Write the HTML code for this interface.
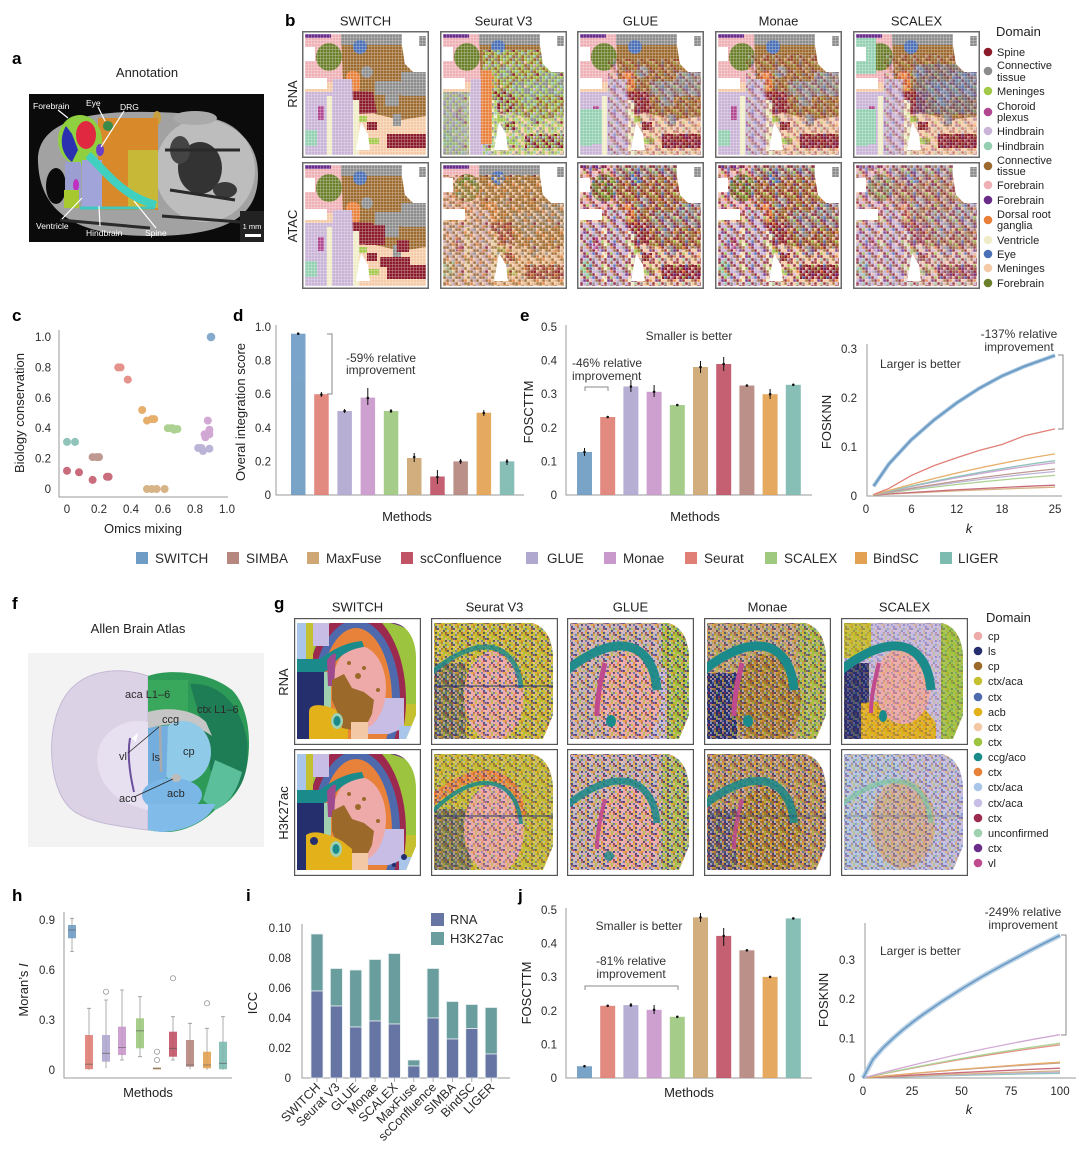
<!DOCTYPE html>
<html><head><meta charset="utf-8"><style>
html,body{margin:0;padding:0;background:#fff;}
svg{display:block;}
text{font-family:"Liberation Sans",sans-serif;fill:#2a2a2a;}
.pl{font-weight:bold;font-size:17px;fill:#000;}
.tk{font-size:11.5px;fill:#333;}
.at{font-size:13px;fill:#222;}
.ti{font-size:13px;fill:#222;}
.lg{font-size:11px;fill:#222;}
.an{font-size:12px;fill:#333;}
.wl{font-size:8.5px;fill:#fff;}
.ax{stroke:#9a9a9a;stroke-width:1;fill:none;}
</style></head><body>
<svg width="1080" height="1158" viewBox="0 0 1080 1158" xmlns="http://www.w3.org/2000/svg">
<defs>
<clipPath id="bclip"><rect x="0" y="0" width="121" height="121"/></clipPath>
<clipPath id="gclip"><path d="M3,5 H100 C114,7 122,22 122,40 V97 L112,121 H3 Z"/></clipPath>
<pattern id="grid" width="3" height="3" patternUnits="userSpaceOnUse"><path d="M0,0.25H3M0.25,0V3" stroke="#fff" stroke-width="0.5" opacity="0.5"/></pattern>
<pattern id="nb" width="24" height="24" patternUnits="userSpaceOnUse">
<path fill="#8b1a2b" d="M0,0h2.7v2.7h-2.7zM12,0h2.7v2.7h-2.7zM21,0h2.7v2.7h-2.7zM3,3h2.7v2.7h-2.7zM15,3h2.7v2.7h-2.7zM6,6h2.7v2.7h-2.7zM18,6h2.7v2.7h-2.7zM9,9h2.7v2.7h-2.7zM21,9h2.7v2.7h-2.7zM0,12h2.7v2.7h-2.7zM12,12h2.7v2.7h-2.7zM3,15h2.7v2.7h-2.7zM15,15h2.7v2.7h-2.7zM6,18h2.7v2.7h-2.7zM18,18h2.7v2.7h-2.7zM0,21h2.7v2.7h-2.7zM9,21h2.7v2.7h-2.7z"/>
<path fill="#9c6a2e" d="M6,0h2.7v2.7h-2.7zM12,3h2.7v2.7h-2.7zM21,6h2.7v2.7h-2.7zM0,9h2.7v2.7h-2.7zM9,12h2.7v2.7h-2.7zM15,18h2.7v2.7h-2.7zM18,21h2.7v2.7h-2.7z"/>
<path fill="#c9b3d6" d="M9,0h2.7v2.7h-2.7zM12,9h2.7v2.7h-2.7zM3,12h2.7v2.7h-2.7zM18,15h2.7v2.7h-2.7zM21,21h2.7v2.7h-2.7z"/>
<path fill="#f5cba7" d="M18,0h2.7v2.7h-2.7zM0,3h2.7v2.7h-2.7zM15,6h2.7v2.7h-2.7zM15,12h2.7v2.7h-2.7zM0,15h2.7v2.7h-2.7zM9,18h2.7v2.7h-2.7z"/>
<path fill="#4a6fb5" d="M9,3h2.7v2.7h-2.7zM12,15h2.7v2.7h-2.7z"/>
<path fill="#a3c94a" d="M21,3h2.7v2.7h-2.7zM3,6h2.7v2.7h-2.7zM6,15h2.7v2.7h-2.7z"/>
<path fill="#6a2c8a" d="M9,6h2.7v2.7h-2.7zM21,12h2.7v2.7h-2.7zM3,18h2.7v2.7h-2.7z"/>
<path fill="#e8803a" d="M6,9h2.7v2.7h-2.7zM21,18h2.7v2.7h-2.7z"/>
<path fill="#8c8c8c" d="M18,9h2.7v2.7h-2.7zM12,21h2.7v2.7h-2.7z"/>
<path fill="#93cfb0" d="M6,21h2.7v2.7h-2.7z"/>
</pattern>
<pattern id="nseu" width="24" height="24" patternUnits="userSpaceOnUse">
<path fill="#a3c94a" d="M0,0h2.7v2.7h-2.7zM9,0h2.7v2.7h-2.7zM15,0h2.7v2.7h-2.7zM3,3h2.7v2.7h-2.7zM12,3h2.7v2.7h-2.7zM18,3h2.7v2.7h-2.7zM6,6h2.7v2.7h-2.7zM15,6h2.7v2.7h-2.7zM21,6h2.7v2.7h-2.7zM0,9h2.7v2.7h-2.7zM6,9h2.7v2.7h-2.7zM18,9h2.7v2.7h-2.7zM3,12h2.7v2.7h-2.7zM9,12h2.7v2.7h-2.7zM12,12h2.7v2.7h-2.7zM21,12h2.7v2.7h-2.7zM0,15h2.7v2.7h-2.7zM6,15h2.7v2.7h-2.7zM15,15h2.7v2.7h-2.7zM3,18h2.7v2.7h-2.7zM12,18h2.7v2.7h-2.7zM18,18h2.7v2.7h-2.7zM21,18h2.7v2.7h-2.7zM3,21h2.7v2.7h-2.7zM9,21h2.7v2.7h-2.7zM15,21h2.7v2.7h-2.7z"/>
<path fill="#8c8c8c" d="M3,0h2.7v2.7h-2.7zM21,0h2.7v2.7h-2.7zM6,3h2.7v2.7h-2.7zM0,6h2.7v2.7h-2.7zM12,6h2.7v2.7h-2.7zM9,9h2.7v2.7h-2.7zM21,9h2.7v2.7h-2.7zM15,12h2.7v2.7h-2.7zM3,15h2.7v2.7h-2.7zM18,15h2.7v2.7h-2.7zM9,18h2.7v2.7h-2.7zM0,21h2.7v2.7h-2.7zM12,21h2.7v2.7h-2.7z"/>
<path fill="#93cfb0" d="M12,0h2.7v2.7h-2.7zM21,3h2.7v2.7h-2.7zM3,6h2.7v2.7h-2.7zM15,9h2.7v2.7h-2.7zM0,12h2.7v2.7h-2.7zM12,15h2.7v2.7h-2.7zM6,18h2.7v2.7h-2.7zM18,21h2.7v2.7h-2.7z"/>
<path fill="#f5cba7" d="M9,3h2.7v2.7h-2.7z"/>
<path fill="#c9b3d6" d="M18,6h2.7v2.7h-2.7z"/>
<path fill="#8b1a2b" d="M21,15h2.7v2.7h-2.7z"/>
</pattern>
<pattern id="nbr" width="24" height="24" patternUnits="userSpaceOnUse">
<path fill="#9c6a2e" d="M0,0h2.7v2.7h-2.7zM6,0h2.7v2.7h-2.7zM15,0h2.7v2.7h-2.7zM3,3h2.7v2.7h-2.7zM9,3h2.7v2.7h-2.7zM18,3h2.7v2.7h-2.7zM6,6h2.7v2.7h-2.7zM12,6h2.7v2.7h-2.7zM21,6h2.7v2.7h-2.7zM0,9h2.7v2.7h-2.7zM3,9h2.7v2.7h-2.7zM12,9h2.7v2.7h-2.7zM6,12h2.7v2.7h-2.7zM9,12h2.7v2.7h-2.7zM18,12h2.7v2.7h-2.7zM0,15h2.7v2.7h-2.7zM12,15h2.7v2.7h-2.7zM15,15h2.7v2.7h-2.7zM3,18h2.7v2.7h-2.7zM9,18h2.7v2.7h-2.7zM18,18h2.7v2.7h-2.7zM0,21h2.7v2.7h-2.7zM12,21h2.7v2.7h-2.7zM21,21h2.7v2.7h-2.7z"/>
<path fill="#f5cba7" d="M3,0h2.7v2.7h-2.7zM18,0h2.7v2.7h-2.7zM6,3h2.7v2.7h-2.7zM21,3h2.7v2.7h-2.7zM0,6h2.7v2.7h-2.7zM15,6h2.7v2.7h-2.7zM9,9h2.7v2.7h-2.7zM21,9h2.7v2.7h-2.7zM3,12h2.7v2.7h-2.7zM9,15h2.7v2.7h-2.7zM21,15h2.7v2.7h-2.7zM0,18h2.7v2.7h-2.7zM12,18h2.7v2.7h-2.7zM6,21h2.7v2.7h-2.7zM15,21h2.7v2.7h-2.7z"/>
<path fill="#e8803a" d="M12,0h2.7v2.7h-2.7zM9,6h2.7v2.7h-2.7zM15,12h2.7v2.7h-2.7zM21,18h2.7v2.7h-2.7zM3,21h2.7v2.7h-2.7z"/>
<path fill="#8c8c8c" d="M15,3h2.7v2.7h-2.7zM6,15h2.7v2.7h-2.7z"/>
<path fill="#8b1a2b" d="M18,9h2.7v2.7h-2.7z"/>
</pattern>
<pattern id="ngA" width="16" height="16" patternUnits="userSpaceOnUse">
<path fill="#262f6e" d="M0,0h1.9v1.9h-1.9zM4,2h1.9v1.9h-1.9zM8,4h1.9v1.9h-1.9zM14,6h1.9v1.9h-1.9zM4,8h1.9v1.9h-1.9zM6,10h1.9v1.9h-1.9zM12,12h1.9v1.9h-1.9zM4,14h1.9v1.9h-1.9z"/>
<path fill="#eeaaa8" d="M2,0h1.9v1.9h-1.9zM10,2h1.9v1.9h-1.9zM14,4h1.9v1.9h-1.9zM0,6h1.9v1.9h-1.9zM6,6h1.9v1.9h-1.9zM2,8h1.9v1.9h-1.9zM8,10h1.9v1.9h-1.9zM10,12h1.9v1.9h-1.9z"/>
<path fill="#c5c030" d="M4,0h1.9v1.9h-1.9zM12,4h1.9v1.9h-1.9zM0,10h1.9v1.9h-1.9z"/>
<path fill="#4e6aad" d="M8,0h1.9v1.9h-1.9zM2,6h1.9v1.9h-1.9zM14,10h1.9v1.9h-1.9z"/>
<path fill="#e3b21a" d="M10,0h1.9v1.9h-1.9zM8,6h1.9v1.9h-1.9zM2,14h1.9v1.9h-1.9z"/>
<path fill="#9b6a2a" d="M14,0h1.9v1.9h-1.9zM4,4h1.9v1.9h-1.9zM10,8h1.9v1.9h-1.9zM10,14h1.9v1.9h-1.9z"/>
<path fill="#e8813a" d="M2,2h1.9v1.9h-1.9zM10,6h1.9v1.9h-1.9zM2,12h1.9v1.9h-1.9z"/>
<path fill="#a9c6ea" d="M6,2h1.9v1.9h-1.9zM6,8h1.9v1.9h-1.9zM0,12h1.9v1.9h-1.9z"/>
<path fill="#9cc43e" d="M12,2h1.9v1.9h-1.9zM0,4h1.9v1.9h-1.9zM12,10h1.9v1.9h-1.9z"/>
<path fill="#6a2d8a" d="M6,4h1.9v1.9h-1.9z"/>
<path fill="#c8bde4" d="M12,8h1.9v1.9h-1.9zM8,14h1.9v1.9h-1.9z"/>
<path fill="#9b2a4e" d="M4,10h1.9v1.9h-1.9zM14,14h1.9v1.9h-1.9z"/>
<path fill="#f3c9a5" d="M6,12h1.9v1.9h-1.9z"/>
</pattern>

<g id="bbase">
<rect width="121" height="121" fill="#f5cba7"/>
<rect x="0" y="0" width="40" height="48" fill="#eeb0b5"/>
<path d="M36,0 H121 V82 L96,86 L70,80 L56,64 L38,48 Z" fill="#9c6a2e"/>
<rect x="36" y="0" width="62" height="11" fill="#8c8c8c"/>
<rect x="70" y="47" width="30" height="14" fill="#8c8c8c"/>
<rect x="96" y="38" width="25" height="24" fill="#8c8c8c"/>
<rect x="80" y="60" width="14" height="12" fill="#8c8c8c"/>
<circle cx="62" cy="38" r="6" fill="#8c8c8c"/>
<rect x="0" y="0" width="26" height="4" fill="#6a2c8a"/>
<ellipse cx="24" cy="23" rx="13" ry="14" fill="#6b7f2a"/>
<circle cx="55" cy="13" r="7" fill="#4a6fb5"/>
<rect x="41" y="37" width="14" height="22" rx="6" fill="#e8803a"/>
<path d="M46,57 L68,58 L72,79 L50,80 Z" fill="#8b1a2b"/>
<rect x="0" y="58" width="28" height="63" fill="#c9b3d6"/>
<path d="M28,45 L47,45 L50,121 L26,121 Z" fill="#c9b3d6"/>
<rect x="22" y="62" width="5" height="59" fill="#f0ecc8"/>
<rect x="48" y="66" width="6" height="55" fill="#f0ecc8"/>
<rect x="0" y="96" width="12" height="16" fill="#93cfb0"/>
<rect x="13" y="72" width="6" height="14" fill="#b0478f"/>
<rect x="82" y="100" width="39" height="14" fill="#8b1a2b"/>
<rect x="62" y="88" width="10" height="8" fill="#8b1a2b"/>
<rect x="88" y="80" width="8" height="12" fill="#8c8c8c"/>
<rect x="58" y="104" width="16" height="6" fill="#a3c94a"/>
<rect x="54" y="82" width="8" height="6" fill="#a3c94a"/>
</g>
<g id="bholes">
<path d="M97,0 H121 V38 H108 L100,30 L97,12 Z" fill="#fff"/>
<rect x="114" y="2" width="7" height="10" fill="#8c8c8c"/>
<rect x="0" y="44" width="22" height="11" fill="#fff"/>
<rect x="0" y="13" width="10" height="14" fill="#fff"/>
<path d="M51,116 L56,88 L63,100 L65,116 Z" fill="#fff"/>
</g>
<g id="gsw">
<rect width="127" height="127" fill="#9cc43e"/>
<path d="M96,0 H127 V24 C120,14 110,8 96,5 Z" fill="#6a2d8a"/>
<rect x="100" y="86" width="27" height="41" fill="#c5c030"/>
<ellipse cx="62" cy="82" rx="50" ry="90" fill="#9b2a4e"/>
<ellipse cx="62" cy="82" rx="44" ry="80" fill="#4e6aad"/>
<ellipse cx="62" cy="82" rx="36" ry="72" fill="#e8813a"/>
<path d="M67,80 H110 V110 L95,116 H67 Z" fill="#c8bde4"/>
<rect x="105" y="108" width="22" height="19" fill="#a9c6ea"/>
<ellipse cx="65" cy="70" rx="27" ry="42" fill="#eeaaa8"/>
<rect x="0" y="0" width="12" height="52" fill="#a9c6ea"/>
<rect x="12" y="0" width="7" height="42" fill="#c5c030"/>
<rect x="19" y="0" width="16" height="28" fill="#c8bde4"/>
<path d="M0,41 H26 C36,34 48,25 68,23 L70,29 C55,31 45,38 38,48 C32,56 22,57 0,57 Z" fill="#1a8a8a"/>
<rect x="3" y="54" width="27" height="73" fill="#262f6e"/>
<rect x="30" y="54" width="7" height="60" fill="#9fd0b0"/>
<path d="M33,42 C38,36 40,35 42,36 L40,68 L34,68 Z" fill="#a04a8e"/>
<path d="M15,94 C15,86 25,86 35,89 L54,96 V127 H15 Z" fill="#e3b21a"/>
<polygon points="38,62 50,56 58,70 70,74 80,82 78,96 72,108 58,112 48,110 44,96 38,82" fill="#9b6a2a"/>
<circle cx="55" cy="45" r="2" fill="#9b6a2a"/><circle cx="70" cy="50" r="2" fill="#9b6a2a"/><circle cx="64" cy="58" r="3" fill="#9b6a2a"/><circle cx="84" cy="72" r="2" fill="#9b6a2a"/>
<ellipse cx="43" cy="103" rx="6" ry="8" fill="#9fd0b0"/>
<ellipse cx="43" cy="103" rx="3.5" ry="5" fill="#1a8a8a"/>
<rect x="57" y="104" width="17" height="23" fill="#f3c9a5"/>
</g>
</defs>

<!-- ===== Panel a ===== -->
<text class="pl" x="12" y="64">a</text>
<text class="ti" x="147" y="77" text-anchor="middle">Annotation</text>
<rect x="29" y="94" width="235" height="148" fill="#0b0b0b"/>
<path d="M38,162 C36,125 80,110 150,112 C210,112 258,125 258,175 C258,215 230,236 150,236 C80,236 40,215 38,162 Z" fill="#a2a2a2"/>
<ellipse cx="205" cy="170" rx="50" ry="52" fill="#c4c4c4" opacity="0.8"/>
<ellipse cx="200" cy="168" rx="22" ry="26" fill="#333"/>
<ellipse cx="180" cy="150" rx="10" ry="14" fill="#444"/>
<ellipse cx="225" cy="190" rx="12" ry="8" fill="#3a3a3a"/>
<path d="M165,150 L240,150 M170,190 L235,200 M162,216 L240,222 M60,220 L150,228" stroke="#2a2a2a" stroke-width="3"/>
<ellipse cx="56" cy="186" rx="10" ry="18" fill="#0b0b0b"/>
<ellipse cx="195" cy="118" rx="22" ry="7" fill="#aaa"/>
<ellipse cx="157" cy="118" rx="4" ry="7" fill="#c8a040"/>
<rect x="98" y="118" width="60" height="92" fill="#d88a2a"/>
<rect x="128" y="150" width="30" height="58" fill="#c8b838"/>
<ellipse cx="80" cy="140" rx="22" ry="25" fill="#8fd040"/>
<ellipse cx="86" cy="135" rx="10" ry="14" fill="#e02840"/>
<path d="M66,126 C58,140 62,155 72,162 L78,150 L72,134 Z" fill="#2a30b0"/>
<circle cx="108" cy="126" r="5" fill="#3a8a4a"/>
<ellipse cx="100" cy="150" rx="4" ry="6" fill="#6a40c8"/>
<rect x="65" y="162" width="16" height="40" fill="#9a9ed0"/>
<rect x="82" y="160" width="20" height="48" fill="#a0a4d8"/>
<path d="M88,155 C105,170 120,195 156,205" stroke="#40d0c0" stroke-width="8" fill="none"/>
<ellipse cx="76" cy="185" rx="3" ry="6" fill="#c030c0"/>
<rect x="64" y="190" width="15" height="18" fill="#a8c830"/>
<path d="M80,208 H155" stroke="#40c8c0" stroke-width="3"/>
<rect x="240" y="211" width="24" height="31" fill="#222"/>
<text x="252" y="229" text-anchor="middle" style="font-size:7.5px;fill:#fff">1 mm</text>
<rect x="245" y="234" width="16" height="3" fill="#fff"/>
<g stroke="#fff" stroke-width="1.2">
<line x1="58" y1="110" x2="68" y2="118"/><line x1="98" y1="107" x2="105" y2="121"/><line x1="124" y1="111" x2="101" y2="147"/>
<line x1="62" y1="219" x2="82" y2="198"/><line x1="100" y1="226" x2="99" y2="206"/><line x1="156" y1="228" x2="134" y2="201"/>
</g>
<text class="wl" x="33" y="109">Forebrain</text>
<text class="wl" x="86" y="106">Eye</text>
<text class="wl" x="120" y="110">DRG</text>
<text class="wl" x="36" y="229">Ventricle</text>
<text class="wl" x="86" y="236">Hindbrain</text>
<text class="wl" x="145" y="236">Spine</text>

<!-- ===== Panel b ===== -->
<text class="pl" x="285" y="26">b</text>
<g text-anchor="middle">
<text class="ti" x="365.5" y="25.5">SWITCH</text>
<text class="ti" x="503.5" y="25.5">Seurat V3</text>
<text class="ti" x="640.5" y="25.5">GLUE</text>
<text class="ti" x="778.5" y="25.5">Monae</text>
<text class="ti" x="916.5" y="25.5">SCALEX</text>
</g>
<text class="at" transform="translate(297,94) rotate(-90)" text-anchor="middle">RNA</text>
<text class="at" transform="translate(297,226) rotate(-90)" text-anchor="middle">ATAC</text>

<g transform="translate(302,31)"><rect x="0.75" y="0.75" width="125.5" height="125.5" fill="#fff" stroke="#6a6a6a" stroke-width="1.5"/>
<g transform="translate(3,3)" clip-path="url(#bclip)"><use href="#bbase"/><use href="#bholes"/><rect width="121" height="121" fill="url(#grid)"/></g></g>
<g transform="translate(302,162)"><rect x="0.75" y="0.75" width="125.5" height="125.5" fill="#fff" stroke="#6a6a6a" stroke-width="1.5"/>
<g transform="translate(3,3)" clip-path="url(#bclip)"><use href="#bbase"/>
<rect x="60" y="60" width="20" height="20" fill="#8b1a2b"/><rect x="75" y="92" width="30" height="10" fill="#8b1a2b"/><rect x="92" y="75" width="12" height="12" fill="#8b1a2b"/>
<use href="#bholes"/><rect width="121" height="121" fill="url(#grid)"/></g></g>
<g transform="translate(440,31)"><rect x="0.75" y="0.75" width="125.5" height="125.5" fill="#fff" stroke="#6a6a6a" stroke-width="1.5"/>
<g transform="translate(3,3)" clip-path="url(#bclip)"><use href="#bbase"/>
<rect x="0" y="58" width="26" height="63" fill="#8c8c8c" opacity="0.6"/>
<rect x="40" y="16" width="81" height="105" fill="url(#nseu)" opacity="0.95"/>
<rect x="0" y="58" width="26" height="63" fill="url(#nseu)" opacity="0.6"/>
<rect x="38" y="36" width="11" height="74" fill="#e8803a"/>
<use href="#bholes"/><rect width="121" height="121" fill="url(#grid)"/></g></g>
<g transform="translate(440,162)"><rect x="0.75" y="0.75" width="125.5" height="125.5" fill="#fff" stroke="#6a6a6a" stroke-width="1.5"/>
<g transform="translate(3,3)" clip-path="url(#bclip)"><use href="#bbase"/>
<rect x="0" y="20" width="121" height="101" fill="#c08a5a" opacity="0.35"/>
<rect x="0" y="10" width="121" height="111" fill="url(#nbr)" opacity="0.85"/>
<use href="#bholes"/><rect width="121" height="121" fill="url(#grid)"/></g></g>
<g transform="translate(577,31)"><rect x="0.75" y="0.75" width="125.5" height="125.5" fill="#fff" stroke="#6a6a6a" stroke-width="1.5"/>
<g transform="translate(3,3)" clip-path="url(#bclip)"><use href="#bbase"/>
<rect x="0" y="75" width="22" height="35" fill="#93cfb0"/>
<rect x="28" y="25" width="93" height="96" fill="url(#nb)" opacity="0.5"/>
<use href="#bholes"/><rect width="121" height="121" fill="url(#grid)"/></g></g>
<g transform="translate(577,162)"><rect x="0.75" y="0.75" width="125.5" height="125.5" fill="#fff" stroke="#6a6a6a" stroke-width="1.5"/>
<g transform="translate(3,3)" clip-path="url(#bclip)"><use href="#bbase"/>
<rect width="121" height="121" fill="url(#nb)" opacity="0.85"/>
<use href="#bholes"/><rect width="121" height="121" fill="url(#grid)"/></g></g>
<g transform="translate(715,31)"><rect x="0.75" y="0.75" width="125.5" height="125.5" fill="#fff" stroke="#6a6a6a" stroke-width="1.5"/>
<g transform="translate(3,3)" clip-path="url(#bclip)"><use href="#bbase"/>
<rect x="28" y="20" width="93" height="101" fill="url(#nb)" opacity="0.5"/>
<use href="#bholes"/><rect width="121" height="121" fill="url(#grid)"/></g></g>
<g transform="translate(715,162)"><rect x="0.75" y="0.75" width="125.5" height="125.5" fill="#fff" stroke="#6a6a6a" stroke-width="1.5"/>
<g transform="translate(3,3)" clip-path="url(#bclip)"><use href="#bbase"/>
<rect width="121" height="121" fill="url(#nb)" opacity="0.85"/>
<use href="#bholes"/><rect width="121" height="121" fill="url(#grid)"/></g></g>
<g transform="translate(853,31)"><rect x="0.75" y="0.75" width="125.5" height="125.5" fill="#fff" stroke="#6a6a6a" stroke-width="1.5"/>
<g transform="translate(3,3)" clip-path="url(#bclip)"><use href="#bbase"/>
<rect x="0" y="4" width="20" height="36" fill="#93cfb0"/>
<rect x="0" y="75" width="20" height="35" fill="#93cfb0"/>
<rect x="60" y="30" width="61" height="50" fill="#4a6fb5" opacity="0.45"/>
<rect x="28" y="20" width="93" height="101" fill="url(#nb)" opacity="0.45"/>
<use href="#bholes"/><rect width="121" height="121" fill="url(#grid)"/></g></g>
<g transform="translate(853,162)"><rect x="0.75" y="0.75" width="125.5" height="125.5" fill="#fff" stroke="#6a6a6a" stroke-width="1.5"/>
<g transform="translate(3,3)" clip-path="url(#bclip)"><use href="#bbase"/>
<rect x="0" y="0" width="121" height="121" fill="#c9b3d6" opacity="0.4"/>
<rect width="121" height="121" fill="url(#nb)" opacity="0.75"/>
<use href="#bholes"/><rect width="121" height="121" fill="url(#grid)"/></g></g>

<text class="at" x="996" y="36">Domain</text>
<g>
<circle cx="988" cy="52" r="4.3" fill="#8b1a2b"/><text class="lg" x="997" y="56">Spine</text>
<circle cx="988" cy="71" r="4.3" fill="#8c8c8c"/><text class="lg" x="997" y="69">Connective</text><text class="lg" x="997" y="81">tissue</text>
<circle cx="988" cy="91" r="4.3" fill="#a3c94a"/><text class="lg" x="997" y="95">Meninges</text>
<circle cx="988" cy="112" r="4.3" fill="#b0478f"/><text class="lg" x="997" y="110">Choroid</text><text class="lg" x="997" y="121">plexus</text>
<circle cx="988" cy="131" r="4.3" fill="#c9b3d6"/><text class="lg" x="997" y="135">Hindbrain</text>
<circle cx="988" cy="146" r="4.3" fill="#93cfb0"/><text class="lg" x="997" y="150">Hindbrain</text>
<circle cx="988" cy="166" r="4.3" fill="#9c6a2e"/><text class="lg" x="997" y="164">Connective</text><text class="lg" x="997" y="175">tissue</text>
<circle cx="988" cy="185" r="4.3" fill="#eeb0b5"/><text class="lg" x="997" y="189">Forebrain</text>
<circle cx="988" cy="200" r="4.3" fill="#6a2c8a"/><text class="lg" x="997" y="204">Forebrain</text>
<circle cx="988" cy="220" r="4.3" fill="#e8803a"/><text class="lg" x="997" y="218">Dorsal root</text><text class="lg" x="997" y="229">ganglia</text>
<circle cx="988" cy="240" r="4.3" fill="#f0ecc8"/><text class="lg" x="997" y="244">Ventricle</text>
<circle cx="988" cy="254" r="4.3" fill="#4a6fb5"/><text class="lg" x="997" y="258">Eye</text>
<circle cx="988" cy="268" r="4.3" fill="#f5cba7"/><text class="lg" x="997" y="272">Meninges</text>
<circle cx="988" cy="283" r="4.3" fill="#6b7f2a"/><text class="lg" x="997" y="287">Forebrain</text>
</g>

<!-- ===== Panel c ===== -->
<text class="pl" x="12" y="321">c</text>
<path class="ax" d="M59,330 V497 H228"/>
<g class="tk" text-anchor="end">
<text x="51" y="341">1.0</text><text x="51" y="371.4">0.8</text><text x="51" y="401.8">0.6</text><text x="51" y="432.2">0.4</text><text x="51" y="462.6">0.2</text><text x="51" y="493">0</text>
</g>
<g class="tk" text-anchor="middle">
<text x="67" y="513">0</text><text x="99" y="513">0.2</text><text x="131" y="513">0.4</text><text x="163" y="513">0.6</text><text x="195" y="513">0.8</text><text x="227" y="513">1.0</text>
</g>
<text class="at" x="143" y="533" text-anchor="middle">Omics mixing</text>
<text class="at" transform="translate(24,413) rotate(-90)" text-anchor="middle">Biology conservation</text>
<g opacity="0.85">
<g fill="#7dbab0"><circle cx="67" cy="441.9" r="4"/><circle cx="75" cy="441.9" r="4"/></g>
<g fill="#c05366"><circle cx="67" cy="470.8" r="4"/><circle cx="79" cy="472.3" r="4"/><circle cx="92.6" cy="479.9" r="4"/><circle cx="107" cy="476.8" r="4"/><circle cx="108.6" cy="476.8" r="4"/></g>
<g fill="#b5877f"><circle cx="92.6" cy="457.1" r="4"/><circle cx="99" cy="457.1" r="4"/><circle cx="96.6" cy="457.1" r="4"/></g>
<g fill="#e07f76"><circle cx="118.2" cy="367.4" r="4"/><circle cx="120.6" cy="367.4" r="4"/><circle cx="127.8" cy="379.6" r="4"/></g>
<g fill="#e3a253"><circle cx="142.2" cy="410" r="4"/><circle cx="147" cy="420.6" r="4"/><circle cx="151.8" cy="419.1" r="4"/><circle cx="154.2" cy="419.1" r="4"/></g>
<g fill="#cfa774"><circle cx="147" cy="489" r="4"/><circle cx="151.8" cy="489" r="4"/><circle cx="156.6" cy="489" r="4"/><circle cx="164.6" cy="489" r="4"/></g>
<g fill="#9ec97f"><circle cx="167.8" cy="428.2" r="4"/><circle cx="171" cy="428.2" r="4"/><circle cx="174.2" cy="429.7" r="4"/><circle cx="177.4" cy="429" r="4"/><circle cx="172.6" cy="428.2" r="4"/></g>
<g fill="#b1a8d0"><circle cx="198.2" cy="448" r="4"/><circle cx="201.4" cy="448" r="4"/><circle cx="203" cy="451" r="4"/><circle cx="209.4" cy="448.7" r="4"/></g>
<g fill="#c999cc"><circle cx="207.8" cy="420.6" r="4"/><circle cx="209.4" cy="429.7" r="4"/><circle cx="209.4" cy="434.3" r="4"/><circle cx="204.6" cy="434.3" r="4"/><circle cx="205.4" cy="437.3" r="4"/></g>
<circle cx="211" cy="337" r="4.3" fill="#6f9cc4"/>
</g>

<!-- ===== Panel d ===== -->
<text class="pl" x="233" y="321">d</text>
<path class="ax" d="M276,325 V495 H524"/>
<g class="tk" text-anchor="end">
<text x="271" y="331">1.0</text><text x="271" y="364.6">0.8</text><text x="271" y="398.2">0.6</text><text x="271" y="431.8">0.4</text><text x="271" y="465.4">0.2</text><text x="271" y="499">0</text>
</g>
<g opacity="0.92">
<rect x="291" y="333.7" width="14.5" height="161.3" fill="#6f9cc4"/>
<rect x="314.2" y="394.2" width="14.5" height="100.8" fill="#e07f76"/>
<rect x="337.4" y="411" width="14.5" height="84" fill="#b1a8d0"/>
<rect x="360.6" y="397.6" width="14.5" height="97.4" fill="#c999cc"/>
<rect x="383.8" y="411" width="14.5" height="84" fill="#9ec97f"/>
<rect x="407" y="458" width="14.5" height="37" fill="#cfa774"/>
<rect x="430.2" y="476.5" width="14.5" height="18.5" fill="#c05366"/>
<rect x="453.4" y="461.4" width="14.5" height="33.6" fill="#b5877f"/>
<rect x="476.6" y="412.7" width="14.5" height="82.3" fill="#e3a253"/>
<rect x="499.8" y="461.4" width="14.5" height="33.6" fill="#7dbab0"/>
</g>
<g stroke="#111" stroke-width="1">
<path d="M298.2,333 v1.5M321.4,392 v5M344.6,409 v4M367.8,388 v17M391,409 v4M414.2,453 v9M437.4,470 v14M460.6,459 v5M483.8,410 v6M507,459 v6"/>
</g>
<g fill="#111">
<circle cx="298.2" cy="333.7" r="1.3"/><circle cx="321.4" cy="394.5" r="1.3"/><circle cx="344.6" cy="411" r="1.3"/><circle cx="367.8" cy="398" r="1.3"/><circle cx="391" cy="411" r="1.3"/><circle cx="414.2" cy="457" r="1.3"/><circle cx="437.4" cy="477" r="1.3"/><circle cx="460.6" cy="461.4" r="1.3"/><circle cx="483.8" cy="413" r="1.3"/><circle cx="507" cy="461.4" r="1.3"/>
</g>
<path d="M327,334 H332 V394 H327" stroke="#888" stroke-width="1" fill="none"/>
<text class="an" x="346" y="362">-59% relative</text>
<text class="an" x="346" y="374">improvement</text>
<text class="at" x="407" y="521" text-anchor="middle">Methods</text>
<text class="at" transform="translate(245,412) rotate(-90)" text-anchor="middle">Overal integration score</text>

<!-- ===== Panel e (bars) ===== -->
<text class="pl" x="520" y="321">e</text>
<path class="ax" d="M566,325 V495 H812"/>
<g class="tk" text-anchor="end">
<text x="557" y="331">0.5</text><text x="557" y="364.6">0.4</text><text x="557" y="398.2">0.3</text><text x="557" y="431.8">0.2</text><text x="557" y="465.4">0.1</text><text x="557" y="499">0</text>
</g>
<g opacity="0.92">
<rect x="577" y="452" width="15" height="43" fill="#6f9cc4"/>
<rect x="600.2" y="417" width="15" height="78" fill="#e07f76"/>
<rect x="623.4" y="386.5" width="15" height="108.5" fill="#b1a8d0"/>
<rect x="646.6" y="391.8" width="15" height="103.2" fill="#c999cc"/>
<rect x="669.8" y="405" width="15" height="90" fill="#9ec97f"/>
<rect x="693" y="367" width="15" height="128" fill="#cfa774"/>
<rect x="716.2" y="364" width="15" height="131" fill="#c05366"/>
<rect x="739.4" y="385.5" width="15" height="109.5" fill="#b5877f"/>
<rect x="762.6" y="394.2" width="15" height="100.8" fill="#e3a253"/>
<rect x="785.8" y="384.8" width="15" height="110.2" fill="#7dbab0"/>
</g>
<g stroke="#111" stroke-width="1">
<path d="M584.5,448 v8M607.7,416 v2M630.9,380 v12M654.1,385 v12M677.3,404 v2M700.5,361 v12M723.7,357 v14M746.9,385 v1.5M770.1,389 v10M793.3,384 v1.5"/>
</g>
<g fill="#111">
<circle cx="584.5" cy="452" r="1.3"/><circle cx="607.7" cy="417" r="1.3"/><circle cx="630.9" cy="386.5" r="1.3"/><circle cx="654.1" cy="391.8" r="1.3"/><circle cx="677.3" cy="405" r="1.3"/><circle cx="700.5" cy="367" r="1.3"/><circle cx="723.7" cy="364" r="1.3"/><circle cx="746.9" cy="385.5" r="1.3"/><circle cx="770.1" cy="394.2" r="1.3"/><circle cx="793.3" cy="384.8" r="1.3"/>
</g>
<text class="an" x="689" y="340" text-anchor="middle">Smaller is better</text>
<text class="an" x="572" y="367">-46% relative</text>
<text class="an" x="572" y="380">improvement</text>
<path d="M585,391 V387 H608 V391" stroke="#888" stroke-width="1" fill="none"/>
<text class="at" x="695" y="521" text-anchor="middle">Methods</text>
<text class="at" transform="translate(533,412) rotate(-90)" text-anchor="middle">FOSCTTM</text>

<!-- ===== Panel e (lines) ===== -->
<path class="ax" d="M867,344 V496 H1062"/>
<g class="tk" text-anchor="end">
<text x="857" y="353">0.3</text><text x="857" y="402">0.2</text><text x="857" y="451">0.1</text><text x="857" y="500">0</text>
</g>
<g class="tk" text-anchor="middle">
<text x="866" y="513">0</text><text x="911.4" y="513">6</text><text x="956.7" y="513">12</text><text x="1002" y="513">18</text><text x="1055" y="513">25</text>
</g>
<g fill="none" stroke-width="1.3" opacity="0.85">
<path d="M873,495 Q964,489.9 1055,487.2" stroke="#cfa774"/>
<path d="M873,495 Q964,488.6 1055,485.2" stroke="#c05366"/>
<path d="M873,495 Q964,482.3 1055,475.4" stroke="#9ec97f"/>
<path d="M873,495 Q964,479.7 1055,471.5" stroke="#b1a8d0"/>
<path d="M873,495 Q964,478.1 1055,469" stroke="#b5877f"/>
<path d="M873,495 Q964,474 1055,462.7" stroke="#c999cc"/>
<path d="M873,495 Q964,472.7 1055,460.7" stroke="#7dbab0"/>
<path d="M873,495 Q964,468.3 1055,453.9" stroke="#e3a253"/>
</g>
<polyline fill="none" stroke="#e07f76" stroke-width="1.3" points="873.6,494.5 888.7,488.6 911.4,475.4 934,465.6 956.7,457.8 979.4,450.4 1002,444.5 1024.8,435.7 1055,428.9"/>
<polyline fill="none" stroke="#a9c8e2" stroke-width="4" stroke-linejoin="round" points="873.6,486.2 888.7,464.2 911.4,439.7 934,420 956.7,402.9 979.4,388.2 1002,376 1024.8,366.2 1055,355.4"/>
<polyline fill="none" stroke="#6f9cc4" stroke-width="2" stroke-linejoin="round" points="873.6,486.2 888.7,464.2 911.4,439.7 934,420 956.7,402.9 979.4,388.2 1002,376 1024.8,366.2 1055,355.4"/>
<path d="M1058,355 H1063 V429 H1058" stroke="#888" stroke-width="1" fill="none"/>
<text class="an" x="880" y="368">Larger is better</text>
<text class="an" x="1019" y="338" text-anchor="middle">-137% relative</text>
<text class="an" x="1019" y="351" text-anchor="middle">improvement</text>
<text class="at" x="969" y="533" text-anchor="middle" font-style="italic">k</text>
<text class="at" transform="translate(831,422) rotate(-90)" text-anchor="middle">FOSKNN</text>

<!-- ===== method legend ===== -->
<g>
<rect x="136" y="552" width="12" height="12" fill="#6f9cc4"/><text x="155" y="563" style="font-size:13.5px">SWITCH</text>
<rect x="227" y="552" width="12" height="12" fill="#b5877f"/><text x="246" y="563" style="font-size:13.5px">SIMBA</text>
<rect x="307" y="552" width="12" height="12" fill="#cfa774"/><text x="326" y="563" style="font-size:13.5px">MaxFuse</text>
<rect x="401" y="552" width="12" height="12" fill="#c05366"/><text x="420" y="563" style="font-size:13.5px">scConfluence</text>
<rect x="526" y="552" width="12" height="12" fill="#b1a8d0"/><text x="547" y="563" style="font-size:13.5px">GLUE</text>
<rect x="604" y="552" width="12" height="12" fill="#c999cc"/><text x="623" y="563" style="font-size:13.5px">Monae</text>
<rect x="685" y="552" width="12" height="12" fill="#e07f76"/><text x="704" y="563" style="font-size:13.5px">Seurat</text>
<rect x="765" y="552" width="12" height="12" fill="#9ec97f"/><text x="784" y="563" style="font-size:13.5px">SCALEX</text>
<rect x="855" y="552" width="12" height="12" fill="#e3a253"/><text x="873" y="563" style="font-size:13.5px">BindSC</text>
<rect x="940" y="552" width="12" height="12" fill="#7dbab0"/><text x="958" y="563" style="font-size:13.5px">LIGER</text>
</g>

<!-- ===== Panel f ===== -->
<text class="pl" x="12" y="609">f</text>
<text class="ti" x="138" y="633" text-anchor="middle">Allen Brain Atlas</text>
<rect x="28" y="653" width="236" height="194" fill="#f3f3f3"/>
<path d="M148,676 C125,668 95,668 75,685 C55,702 50,735 52,760 C54,785 62,800 70,808 C85,822 115,826 148,830 Z" fill="#dcd2e6" stroke="#c4b8d4" stroke-width="1"/>
<path d="M148,722 C130,718 110,725 100,745 C92,765 100,800 148,810 Z" fill="#e7e0f0"/>
<path d="M130,738 C127,755 130,775 134,792" stroke="#6b4f9c" stroke-width="2" fill="none"/>
<path d="M148,676 C170,668 210,672 232,690 C250,708 252,745 246,770 C240,792 230,803 215,810 C205,820 190,830 170,832 C160,832 152,831 148,830 Z" fill="#2e9a57"/>
<path d="M190,684 C215,682 240,700 247,740 C250,770 242,788 232,796 L210,770 L205,735 Z" fill="#1f7d55"/>
<rect x="148" y="680" width="40" height="42" fill="#3aa85c"/>
<path d="M215,760 L242,772 C236,795 226,805 215,810 L203,800 Z" fill="#5cbf9c"/>
<path d="M148,712 C165,707 192,708 206,722 L212,736 C195,723 170,721 148,729 Z" fill="#c6c6c6"/>
<ellipse cx="183" cy="752" rx="28" ry="31" fill="#8fcbe9"/>
<path d="M148,728 L168,725 L166,790 L148,796 Z" fill="#74aede"/>
<ellipse cx="172" cy="795" rx="30" ry="17" fill="#7ab6e6"/>
<path d="M148,804 H215 C210,820 185,832 160,832 L148,830 Z" fill="#80bbea"/>
<path d="M160,726 L161,772" stroke="#aaa" stroke-width="2.5"/>
<ellipse cx="176" cy="778" rx="5" ry="4" fill="#bcbcbc"/>
<path d="M132,738 L138,733 L136,742 Z" fill="#fff"/>
<g stroke="#222" stroke-width="0.8"><line x1="128" y1="753" x2="159" y2="727"/><line x1="134" y1="797" x2="173" y2="779"/></g>
<g>
<text x="125" y="698" style="font-size:11px">aca L1–6</text>
<text x="197" y="713" style="font-size:11px">ctx L1–6</text>
<text x="162" y="723" style="font-size:11px">ccg</text>
<text x="183" y="755" style="font-size:11px">cp</text>
<text x="119" y="760" style="font-size:11px">vl</text>
<text x="152" y="761" style="font-size:11px">ls</text>
<text x="167" y="797" style="font-size:11px">acb</text>
<text x="119" y="802" style="font-size:11px">aco</text>
</g>

<!-- ===== Panel g ===== -->
<text class="pl" x="274" y="609">g</text>
<g text-anchor="middle">
<text class="ti" x="357.5" y="611.5">SWITCH</text>
<text class="ti" x="494.5" y="611.5">Seurat V3</text>
<text class="ti" x="630.5" y="611.5">GLUE</text>
<text class="ti" x="767.5" y="611.5">Monae</text>
<text class="ti" x="904.5" y="611.5">SCALEX</text>
</g>
<text class="at" transform="translate(288,682) rotate(-90)" text-anchor="middle">RNA</text>
<text class="at" transform="translate(288,813) rotate(-90)" text-anchor="middle">H3K27ac</text>

<g transform="translate(294,618)"><rect x="0.6" y="0.6" width="125.8" height="125.8" fill="#fff" stroke="#555" stroke-width="1.2"/>
<g clip-path="url(#gclip)"><use href="#gsw"/></g></g>
<g transform="translate(294,749)"><rect x="0.6" y="0.6" width="125.8" height="125.8" fill="#fff" stroke="#555" stroke-width="1.2"/>
<g clip-path="url(#gclip)"><use href="#gsw"/>
<path d="M12,86 C20,80 35,85 48,92 L58,100 V127 H12 Z" fill="#e3b21a"/>
<ellipse cx="42" cy="100" rx="6" ry="8" fill="#9fd0b0"/><ellipse cx="42" cy="100" rx="3.5" ry="5" fill="#1a8a8a"/>
<circle cx="20" cy="92" r="4" fill="#262f6e"/><circle cx="110" cy="108" r="3" fill="#262f6e"/><circle cx="100" cy="116" r="2" fill="#262f6e"/>
</g></g>
<g transform="translate(431,618)"><rect x="0.6" y="0.6" width="125.8" height="125.8" fill="#fff" stroke="#555" stroke-width="1.2"/>
<g clip-path="url(#gclip)">
<rect width="127" height="127" fill="#c5c030"/>
<rect x="0" y="45" width="35" height="82" fill="#262f6e" opacity="0.55"/>
<ellipse cx="63" cy="78" rx="30" ry="45" fill="#eeaaa8"/>
<rect width="127" height="127" fill="url(#ngA)" opacity="0.75"/>
<path d="M0,55 C18,40 38,28 56,29 C76,30 88,46 90,70" stroke="#1a8a8a" stroke-width="5" fill="none" opacity="0.8"/>
<line x1="3" y1="68" x2="122" y2="68" stroke="#262f6e" stroke-width="1"/>
</g></g>
<g transform="translate(431,749)"><rect x="0.6" y="0.6" width="125.8" height="125.8" fill="#fff" stroke="#555" stroke-width="1.2"/>
<g clip-path="url(#gclip)">
<rect width="127" height="127" fill="#c5c030"/>
<rect x="0" y="60" width="40" height="67" fill="#262f6e" opacity="0.5"/>
<ellipse cx="63" cy="80" rx="30" ry="45" fill="#eeaaa8"/>
<path d="M0,52 C18,37 38,25 56,26 C76,27 88,43 90,68" stroke="#e8813a" stroke-width="10" fill="none"/>
<rect width="127" height="127" fill="url(#ngA)" opacity="0.6"/>
<path d="M2,62 C18,46 38,33 56,34 C76,35 88,51 90,75" stroke="#1a8a8a" stroke-width="4" fill="none" opacity="0.85"/>
<line x1="3" y1="67" x2="122" y2="67" stroke="#262f6e" stroke-width="1"/>
</g></g>
<g transform="translate(567,618)"><rect x="0.6" y="0.6" width="125.8" height="125.8" fill="#fff" stroke="#555" stroke-width="1.2"/>
<g clip-path="url(#gclip)">
<rect width="127" height="127" fill="#c8b4b8"/>
<rect x="95" y="0" width="32" height="127" fill="#9cc43e"/>
<rect x="80" y="50" width="20" height="77" fill="#c8bde4"/>
<ellipse cx="62" cy="80" rx="32" ry="46" fill="#eeaaa8"/>
<rect width="127" height="127" fill="url(#ngA)" opacity="0.8"/>
<path d="M0,52 C18,38 38,27 56,28 C76,29 88,46 90,72" stroke="#1a8a8a" stroke-width="9" fill="none" opacity="0.95"/>
<path d="M38,45 C33,65 30,80 30,98" stroke="#c04a8e" stroke-width="5" fill="none"/>
<ellipse cx="44" cy="103" rx="5" ry="6" fill="#1a8a8a"/>
</g></g>
<g transform="translate(567,749)"><rect x="0.6" y="0.6" width="125.8" height="125.8" fill="#fff" stroke="#555" stroke-width="1.2"/>
<g clip-path="url(#gclip)">
<rect width="127" height="127" fill="#c8b4b8"/>
<rect x="95" y="0" width="32" height="127" fill="#9cc43e" opacity="0.8"/>
<ellipse cx="62" cy="82" rx="32" ry="46" fill="#eeaaa8"/>
<rect width="127" height="127" fill="url(#ngA)" opacity="0.85"/>
<path d="M0,56 C18,42 38,31 56,32 C76,33 88,50 90,74" stroke="#1a8a8a" stroke-width="7" fill="none" opacity="0.85"/>
<path d="M38,50 C33,70 30,85 30,100" stroke="#c04a8e" stroke-width="4" fill="none" opacity="0.9"/>
<ellipse cx="42" cy="107" rx="5" ry="5" fill="#1a8a8a" opacity="0.8"/>
</g></g>
<g transform="translate(704,618)"><rect x="0.6" y="0.6" width="125.8" height="125.8" fill="#fff" stroke="#555" stroke-width="1.2"/>
<g clip-path="url(#gclip)">
<rect width="127" height="127" fill="#b8a070"/>
<rect x="95" y="0" width="32" height="127" fill="#9cc43e" opacity="0.8"/>
<rect x="0" y="55" width="33" height="72" fill="#262f6e"/>
<ellipse cx="63" cy="82" rx="34" ry="46" fill="#a07a30"/>
<rect width="127" height="127" fill="url(#ngA)" opacity="0.7"/>
<path d="M0,52 C18,38 38,27 56,28 C76,29 88,46 90,72" stroke="#1a8a8a" stroke-width="9" fill="none"/>
<path d="M38,45 C33,65 30,80 30,98" stroke="#c04a8e" stroke-width="5" fill="none"/>
<ellipse cx="44" cy="103" rx="5" ry="6" fill="#1a8a8a"/>
</g></g>
<g transform="translate(704,749)"><rect x="0.6" y="0.6" width="125.8" height="125.8" fill="#fff" stroke="#555" stroke-width="1.2"/>
<g clip-path="url(#gclip)">
<rect width="127" height="127" fill="#b09060"/>
<rect x="0" y="60" width="33" height="67" fill="#262f6e" opacity="0.6"/>
<ellipse cx="63" cy="84" rx="34" ry="46" fill="#a07a30"/>
<rect width="127" height="127" fill="url(#ngA)" opacity="0.8"/>
<path d="M0,56 C18,42 38,31 56,32 C76,33 88,50 90,74" stroke="#1a8a8a" stroke-width="8" fill="none" opacity="0.85"/>
<path d="M38,50 C33,70 30,85 30,100" stroke="#c04a8e" stroke-width="4" fill="none" opacity="0.85"/>
<line x1="3" y1="67" x2="122" y2="67" stroke="#262f6e" stroke-width="1" opacity="0.6"/>
</g></g>
<g transform="translate(841,618)"><rect x="0.6" y="0.6" width="125.8" height="125.8" fill="#fff" stroke="#555" stroke-width="1.2"/>
<g clip-path="url(#gclip)">
<rect width="127" height="127" fill="#c8bde4"/>
<rect x="100" y="0" width="27" height="127" fill="#9cc43e"/>
<rect x="0" y="0" width="30" height="40" fill="#c5c030"/>
<rect x="0" y="45" width="28" height="82" fill="#262f6e"/>
<path d="M20,85 L75,80 L95,105 L95,127 L20,127 Z" fill="#e3b21a"/>
<ellipse cx="62" cy="68" rx="28" ry="38" fill="#eeaaa8"/>
<rect width="127" height="127" fill="url(#ngA)" opacity="0.35"/>
<path d="M0,52 C18,38 38,27 56,28 C76,29 88,46 90,72" stroke="#1a8a8a" stroke-width="9" fill="none"/>
<path d="M38,45 C33,65 30,80 30,95" stroke="#c04a8e" stroke-width="4" fill="none"/>
<ellipse cx="42" cy="98" rx="4" ry="6" fill="#1a8a8a"/>
</g></g>
<g transform="translate(841,749)"><rect x="0.6" y="0.6" width="125.8" height="125.8" fill="#fff" stroke="#555" stroke-width="1.2"/>
<g clip-path="url(#gclip)">
<rect width="127" height="127" fill="#b4c8e8"/>
<rect x="60" y="0" width="67" height="127" fill="#c8bde4" opacity="0.6"/>
<ellipse cx="62" cy="75" rx="32" ry="44" fill="#d8a070" opacity="0.6"/>
<rect width="127" height="127" fill="url(#ngA)" opacity="0.5"/>
<path d="M0,56 C18,42 38,31 56,32 C76,33 88,50 90,74" stroke="#7fc7a8" stroke-width="5" fill="none" opacity="0.7"/>
<line x1="3" y1="67" x2="122" y2="67" stroke="#262f6e" stroke-width="1" opacity="0.4"/>
</g></g>

<text class="at" x="986" y="622">Domain</text>
<g>
<circle cx="978" cy="636" r="4.3" fill="#eeaaa8"/><text class="lg" x="988" y="640">cp</text>
<circle cx="978" cy="651" r="4.3" fill="#262f6e"/><text class="lg" x="988" y="655">ls</text>
<circle cx="978" cy="666" r="4.3" fill="#9b6a2a"/><text class="lg" x="988" y="670">cp</text>
<circle cx="978" cy="681" r="4.3" fill="#c5c030"/><text class="lg" x="988" y="685">ctx/aca</text>
<circle cx="978" cy="697" r="4.3" fill="#4e6aad"/><text class="lg" x="988" y="701">ctx</text>
<circle cx="978" cy="712" r="4.3" fill="#e3b21a"/><text class="lg" x="988" y="716">acb</text>
<circle cx="978" cy="727" r="4.3" fill="#f3c9a5"/><text class="lg" x="988" y="731">ctx</text>
<circle cx="978" cy="742" r="4.3" fill="#9cc43e"/><text class="lg" x="988" y="746">ctx</text>
<circle cx="978" cy="757" r="4.3" fill="#1a8a8a"/><text class="lg" x="988" y="761">ccg/aco</text>
<circle cx="978" cy="772" r="4.3" fill="#e8813a"/><text class="lg" x="988" y="776">ctx</text>
<circle cx="978" cy="787" r="4.3" fill="#a9c6ea"/><text class="lg" x="988" y="791">ctx/aca</text>
<circle cx="978" cy="803" r="4.3" fill="#c8bde4"/><text class="lg" x="988" y="807">ctx/aca</text>
<circle cx="978" cy="818" r="4.3" fill="#9b2a4e"/><text class="lg" x="988" y="822">ctx</text>
<circle cx="978" cy="833" r="4.3" fill="#9fd0b0"/><text class="lg" x="988" y="837">unconfirmed</text>
<circle cx="978" cy="848" r="4.3" fill="#6a2d8a"/><text class="lg" x="988" y="852">ctx</text>
<circle cx="978" cy="863" r="4.3" fill="#c04a8e"/><text class="lg" x="988" y="867">vl</text>
</g>

<!-- ===== Panel h ===== -->
<text class="pl" x="12" y="901">h</text>
<path class="ax" d="M64,912 V1078 H232"/>
<g class="tk" text-anchor="end">
<text x="55" y="924">0.9</text><text x="55" y="974">0.6</text><text x="55" y="1024">0.3</text><text x="55" y="1074">0</text>
</g>
<g stroke="#999" stroke-width="0.8" fill="none">
<path d="M72,918.3V951.6M70,918.3h4M70,951.6h4"/>
<path d="M89,1008.3V1070M87,1008.3h4"/>
<path d="M106,1000V1068.3M104,1000h4"/>
<path d="M122,990V1060M120,990h4M120,1060h4"/>
<path d="M140,996.7V1056.7M138,996.7h4M138,1056.7h4"/>
<path d="M173,1016.7V1060M171,1016.7h4M171,1060h4"/>
<path d="M190,1023.3V1069.2M188,1023.3h4"/>
<path d="M207,1028.3V1070M205,1028.3h4"/>
<path d="M223,1016.7V1070M221,1016.7h4"/>
<circle cx="106" cy="991.7" r="2.6"/><circle cx="157" cy="1060" r="2.6"/><circle cx="157" cy="1051.7" r="2.6"/><circle cx="173" cy="978.3" r="2.6"/><circle cx="207" cy="1003.3" r="2.6"/>
</g>
<g opacity="0.9">
<rect x="68" y="925" width="8" height="13.3" fill="#6f9cc4"/>
<rect x="85" y="1035" width="8" height="34.2" fill="#e07f76"/>
<rect x="102" y="1035" width="8" height="26.7" fill="#b1a8d0"/>
<rect x="118" y="1026.7" width="8" height="28.3" fill="#c999cc"/>
<rect x="136" y="1018.3" width="8" height="30" fill="#9ec97f"/>
<rect x="153" y="1067.5" width="8" height="2" fill="#cfa774"/>
<rect x="169" y="1031.7" width="8" height="25" fill="#c05366"/>
<rect x="186" y="1040" width="8" height="26.7" fill="#b5877f"/>
<rect x="203" y="1051.7" width="8" height="16.6" fill="#e3a253"/>
<rect x="219" y="1041.7" width="8" height="27.5" fill="#7dbab0"/>
</g>
<g stroke="#555" stroke-width="0.8" opacity="0.7">
<path d="M68,930h8M85,1064.2h8M102,1053.3h8M118,1047.5h8M136,1030.8h8M153,1068.3h8M169,1048.3h8M186,1065h8M203,1065h8M219,1063.3h8"/>
</g>
<text class="at" x="148" y="1097" text-anchor="middle">Methods</text>
<text class="at" transform="translate(28,990) rotate(-90)" text-anchor="middle">Moran’s <tspan font-style="italic">I</tspan></text>

<!-- ===== Panel i ===== -->
<text class="pl" x="246" y="901">i</text>
<path class="ax" d="M302,924 V1078 H510"/>
<g class="tk" text-anchor="end">
<text x="291" y="932">0.10</text><text x="291" y="962">0.08</text><text x="291" y="992">0.06</text><text x="291" y="1022">0.04</text><text x="291" y="1052">0.02</text><text x="291" y="1082">0</text>
</g>
<g stroke="#e8eef0" stroke-width="0.8">
<rect x="311" y="934" width="12" height="57" fill="#6a9e9e"/><rect x="311" y="991" width="12" height="87" fill="#6675a3"/>
<rect x="330.4" y="968.5" width="12" height="37.5" fill="#6a9e9e"/><rect x="330.4" y="1006" width="12" height="72" fill="#6675a3"/>
<rect x="349.7" y="970" width="12" height="57" fill="#6a9e9e"/><rect x="349.7" y="1027" width="12" height="51" fill="#6675a3"/>
<rect x="369.1" y="959.5" width="12" height="61.5" fill="#6a9e9e"/><rect x="369.1" y="1021" width="12" height="57" fill="#6675a3"/>
<rect x="388.4" y="953.5" width="12" height="70.5" fill="#6a9e9e"/><rect x="388.4" y="1024" width="12" height="54" fill="#6675a3"/>
<rect x="407.8" y="1060" width="12" height="6" fill="#6a9e9e"/><rect x="407.8" y="1066" width="12" height="12" fill="#6675a3"/>
<rect x="427.1" y="968.5" width="12" height="49.5" fill="#6a9e9e"/><rect x="427.1" y="1018" width="12" height="60" fill="#6675a3"/>
<rect x="446.5" y="1001.5" width="12" height="37.5" fill="#6a9e9e"/><rect x="446.5" y="1039" width="12" height="39" fill="#6675a3"/>
<rect x="465.8" y="1004.5" width="12" height="24" fill="#6a9e9e"/><rect x="465.8" y="1028.5" width="12" height="49.5" fill="#6675a3"/>
<rect x="485.2" y="1007.5" width="12" height="46.5" fill="#6a9e9e"/><rect x="485.2" y="1054" width="12" height="24" fill="#6675a3"/>
</g>
<g stroke="#999" stroke-width="0.8"><path d="M317,1078v4M336.4,1078v4M355.7,1078v4M375.1,1078v4M394.4,1078v4M413.8,1078v4M433.1,1078v4M452.5,1078v4M471.8,1078v4M491.2,1078v4"/></g>
<rect x="431" y="913" width="13" height="13" fill="#6675a3"/><text x="450" y="924" style="font-size:13px">RNA</text>
<rect x="431" y="932" width="13" height="13" fill="#6a9e9e"/><text x="450" y="943" style="font-size:13px">H3K27ac</text>
<text class="at" transform="translate(257,1003) rotate(-90)" text-anchor="middle">ICC</text>
<g text-anchor="end">
<text transform="translate(321,1088) rotate(-45)" style="font-size:12.5px">SWITCH</text>
<text transform="translate(340.4,1088) rotate(-45)" style="font-size:12.5px">Seurat V3</text>
<text transform="translate(359.7,1088) rotate(-45)" style="font-size:12.5px">GLUE</text>
<text transform="translate(379.1,1088) rotate(-45)" style="font-size:12.5px">Monae</text>
<text transform="translate(398.4,1088) rotate(-45)" style="font-size:12.5px">SCALEX</text>
<text transform="translate(417.8,1088) rotate(-45)" style="font-size:12.5px">MaxFuse</text>
<text transform="translate(437.1,1088) rotate(-45)" style="font-size:12.5px">scConfluence</text>
<text transform="translate(456.5,1088) rotate(-45)" style="font-size:12.5px">SIMBA</text>
<text transform="translate(475.8,1088) rotate(-45)" style="font-size:12.5px">BindSC</text>
<text transform="translate(495.2,1088) rotate(-45)" style="font-size:12.5px">LIGER</text>
</g>

<!-- ===== Panel j (bars) ===== -->
<text class="pl" x="518" y="901">j</text>
<path class="ax" d="M566,908 V1078 H812"/>
<g class="tk" text-anchor="end">
<text x="557" y="914">0.5</text><text x="557" y="947.6">0.4</text><text x="557" y="981.2">0.3</text><text x="557" y="1014.8">0.2</text><text x="557" y="1048.4">0.1</text><text x="557" y="1082">0</text>
</g>
<g opacity="0.92">
<rect x="577" y="1066.2" width="15" height="11.8" fill="#6f9cc4"/>
<rect x="600.2" y="1005.8" width="15" height="72.2" fill="#e07f76"/>
<rect x="623.4" y="1005.1" width="15" height="72.9" fill="#b1a8d0"/>
<rect x="646.6" y="1009.8" width="15" height="68.2" fill="#c999cc"/>
<rect x="669.8" y="1016.8" width="15" height="61.2" fill="#9ec97f"/>
<rect x="693" y="917.4" width="15" height="160.6" fill="#cfa774"/>
<rect x="716.2" y="935.9" width="15" height="142.1" fill="#c05366"/>
<rect x="739.4" y="950.3" width="15" height="127.7" fill="#b5877f"/>
<rect x="762.6" y="976.9" width="15" height="101.1" fill="#e3a253"/>
<rect x="785.8" y="918.4" width="15" height="159.6" fill="#7dbab0"/>
</g>
<g stroke="#111" stroke-width="1">
<path d="M584.5,1065 v2M607.7,1005 v1.5M630.9,1003 v4M654.1,1005 v9M677.3,1016 v1.5M700.5,913 v9M723.7,928 v18M746.9,949.5 v1.5M770.1,976 v1.5M793.3,917.6 v1.5"/>
</g>
<g fill="#111">
<circle cx="584.5" cy="1066.2" r="1.3"/><circle cx="607.7" cy="1005.8" r="1.3"/><circle cx="630.9" cy="1005.1" r="1.3"/><circle cx="654.1" cy="1009.8" r="1.3"/><circle cx="677.3" cy="1016.8" r="1.3"/><circle cx="700.5" cy="917.4" r="1.3"/><circle cx="723.7" cy="935.9" r="1.3"/><circle cx="746.9" cy="950.3" r="1.3"/><circle cx="770.1" cy="976.9" r="1.3"/><circle cx="793.3" cy="918.4" r="1.3"/>
</g>
<text class="an" x="639" y="930" text-anchor="middle">Smaller is better</text>
<text class="an" x="631" y="965" text-anchor="middle">-81% relative</text>
<text class="an" x="631" y="978" text-anchor="middle">improvement</text>
<path d="M585,990 V986 H678 V990" stroke="#888" stroke-width="1" fill="none"/>
<text class="at" x="689" y="1097" text-anchor="middle">Methods</text>
<text class="at" transform="translate(531,993) rotate(-90)" text-anchor="middle">FOSCTTM</text>

<!-- ===== Panel j (lines) ===== -->
<path class="ax" d="M865,923 V1078 H1076"/>
<g class="tk" text-anchor="end">
<text x="855" y="963.8">0.3</text><text x="855" y="1003.2">0.2</text><text x="855" y="1042.6">0.1</text><text x="855" y="1082">0</text>
</g>
<g class="tk" text-anchor="middle">
<text x="863" y="1095">0</text><text x="912" y="1095">25</text><text x="961.5" y="1095">50</text><text x="1011" y="1095">75</text><text x="1060" y="1095">100</text>
</g>
<g fill="none" stroke-width="1.3" opacity="0.85">
<path d="M863,1078 Q961,1075.1 1060,1073.3" stroke="#7dbab0"/>
<path d="M863,1078 Q961,1074.3 1060,1072.1" stroke="#b1a8d0"/>
<path d="M863,1078 Q961,1073.6 1060,1070.9" stroke="#cfa774"/>
<path d="M863,1078 Q961,1071.9 1060,1068.2" stroke="#c05366"/>
<path d="M863,1078 Q961,1068.7 1060,1063" stroke="#b5877f"/>
<path d="M863,1078 Q961,1068.2 1060,1062.2" stroke="#e3a253"/>
<path d="M863,1078 Q961,1057.5 1060,1044.9" stroke="#e07f76"/>
<path d="M863,1078 Q961,1056.5 1060,1043.3" stroke="#9ec97f"/>
<path d="M863,1078 Q961,1051.2 1060,1034.7" stroke="#c999cc"/>
</g>
<polyline fill="none" stroke="#a9c8e2" stroke-width="5" stroke-linejoin="round" opacity="0.8" points="863,1078 872.9,1059.4 882.7,1048.2 892.6,1038.8 902.4,1030.2 912.3,1022.4 922.1,1015.1 941.8,1001.6 961.5,989 981.2,977.1 1000.9,966.1 1020.6,955.5 1040.3,945.2 1060,935.4"/>
<polyline fill="none" stroke="#6f9cc4" stroke-width="1.8" stroke-linejoin="round" points="863,1078 872.9,1059.4 882.7,1048.2 892.6,1038.8 902.4,1030.2 912.3,1022.4 922.1,1015.1 941.8,1001.6 961.5,989 981.2,977.1 1000.9,966.1 1020.6,955.5 1040.3,945.2 1060,935.4"/>
<path d="M1061,935 H1066 V1035 H1061" stroke="#888" stroke-width="1" fill="none"/>
<text class="an" x="880" y="955">Larger is better</text>
<text class="an" x="1023" y="916" text-anchor="middle">-249% relative</text>
<text class="an" x="1023" y="929" text-anchor="middle">improvement</text>
<text class="at" x="969" y="1114" text-anchor="middle" font-style="italic">k</text>
<text class="at" transform="translate(828,1000) rotate(-90)" text-anchor="middle">FOSKNN</text>
</svg>
</body></html>
